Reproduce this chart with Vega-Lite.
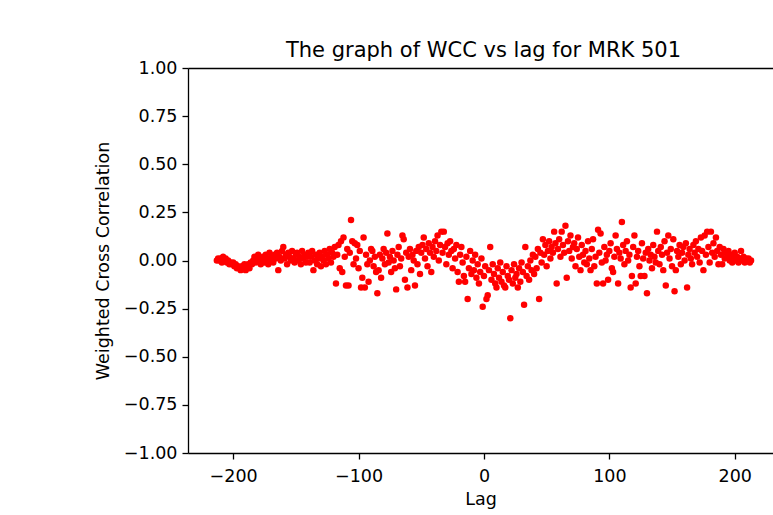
{
  "$schema": "https://vega.github.io/schema/vega-lite/v6.json",
  "width": 585,
  "height": 385,
  "autosize": {"type": "none"},
  "padding": {"left": 188, "top": 68, "right": 0, "bottom": 62},
  "background": "white",
  "title": {"text": "The graph of WCC vs lag for MRK 501", "fontSize": 21, "font": "DejaVu Sans", "fontWeight": "normal", "color": "#000000", "anchor": "middle", "dx": 3, "offset": -2},
  "config": {
    "view": {"stroke": null},
    "axis": {
      "grid": false, "domain": true, "domainColor": "#000000", "domainWidth": 1.3, "tickColor": "#000000", "tickSize": 6, "tickWidth": 1.3,
      "labelFont": "DejaVu Sans", "labelFontSize": 17.5, "labelColor": "#000000", "labelPadding": 5,
      "titleFont": "DejaVu Sans", "titleFontSize": 17.5, "titleFontWeight": "normal", "titleColor": "#000000", "titlePadding": 6
    }
  },
  "data": {"values": [
    {"lag":-213,"wcc":0.00},{"lag":-212,"wcc":0.01},{"lag":-211,"wcc":0.00},{"lag":-210,"wcc":0.01},{"lag":-209,"wcc":-0.01},{"lag":-208,"wcc":0.02},{"lag":-207,"wcc":0.00},{"lag":-206,"wcc":0.01},{"lag":-205,"wcc":-0.01},{"lag":-204,"wcc":0.00},{"lag":-203,"wcc":-0.02},{"lag":-202,"wcc":-0.01},{"lag":-201,"wcc":-0.02},{"lag":-200,"wcc":-0.01},{"lag":-199,"wcc":-0.03},{"lag":-198,"wcc":-0.02},{"lag":-197,"wcc":-0.04},{"lag":-196,"wcc":-0.03},{"lag":-195,"wcc":-0.04},{"lag":-194,"wcc":-0.05},{"lag":-193,"wcc":-0.03},{"lag":-192,"wcc":-0.04},{"lag":-191,"wcc":-0.02},{"lag":-190,"wcc":-0.05},{"lag":-189,"wcc":-0.03},{"lag":-188,"wcc":-0.02},{"lag":-187,"wcc":-0.04},{"lag":-186,"wcc":-0.01},
    {"lag":-185,"wcc":-0.02},{"lag":-184,"wcc":0.00},{"lag":-183,"wcc":0.02},{"lag":-182,"wcc":-0.01},{"lag":-181,"wcc":0.01},{"lag":-180,"wcc":0.03},{"lag":-179,"wcc":0.00},{"lag":-178,"wcc":-0.02},{"lag":-177,"wcc":0.01},{"lag":-176,"wcc":0.02},{"lag":-175,"wcc":-0.01},{"lag":-174,"wcc":0.03},{"lag":-173,"wcc":0.01},{"lag":-172,"wcc":-0.02},{"lag":-171,"wcc":0.04},{"lag":-170,"wcc":0.00},{"lag":-169,"wcc":0.02},{"lag":-168,"wcc":-0.01},{"lag":-167,"wcc":0.03},{"lag":-166,"wcc":0.01},{"lag":-165,"wcc":0.04},{"lag":-164,"wcc":-0.05},{"lag":-163,"wcc":0.02},{"lag":-162,"wcc":0.00},{"lag":-161,"wcc":0.05},{"lag":-160,"wcc":0.07},{"lag":-159,"wcc":0.01},{"lag":-158,"wcc":0.03},{"lag":-157,"wcc":-0.02},{"lag":-156,"wcc":0.04},{"lag":-155,"wcc":0.02},{"lag":-154,"wcc":0.00},{"lag":-153,"wcc":0.05},{"lag":-152,"wcc":0.01},{"lag":-151,"wcc":-0.01},{"lag":-150,"wcc":0.03},{"lag":-149,"wcc":0.04},{"lag":-148,"wcc":0.00},{"lag":-147,"wcc":0.02},{"lag":-146,"wcc":-0.02},{"lag":-145,"wcc":0.05},{"lag":-144,"wcc":0.01},{"lag":-143,"wcc":0.03},{"lag":-142,"wcc":-0.01},{"lag":-141,"wcc":0.02},
    {"lag":-140,"wcc":0.04},{"lag":-139,"wcc":-0.01},{"lag":-138,"wcc":0.02},{"lag":-137,"wcc":0.05},{"lag":-136,"wcc":-0.05},{"lag":-135,"wcc":0.00},{"lag":-134,"wcc":0.03},{"lag":-133,"wcc":-0.02},{"lag":-132,"wcc":0.01},{"lag":-131,"wcc":0.04},{"lag":-130,"wcc":-0.03},{"lag":-129,"wcc":0.02},{"lag":-128,"wcc":0.00},{"lag":-127,"wcc":0.05},{"lag":-126,"wcc":-0.02},{"lag":-125,"wcc":0.03},{"lag":-124,"wcc":0.01},{"lag":-123,"wcc":0.06},{"lag":-122,"wcc":-0.01},{"lag":-121,"wcc":0.04},{"lag":-120,"wcc":0.02},{"lag":-119,"wcc":0.07},{"lag":-118,"wcc":-0.12},{"lag":-117,"wcc":0.03},{"lag":-116,"wcc":0.08},
    {"lag":-115,"wcc":-0.04},{"lag":-114,"wcc":0.10},{"lag":-113,"wcc":-0.06},{"lag":-112,"wcc":0.12},{"lag":-111,"wcc":0.02},{"lag":-110,"wcc":-0.13},{"lag":-109,"wcc":0.06},{"lag":-108,"wcc":-0.13},{"lag":-107,"wcc":0.04},{"lag":-106,"wcc":0.21},{"lag":-105,"wcc":0.10},{"lag":-104,"wcc":-0.02},{"lag":-103,"wcc":0.09},{"lag":-102,"wcc":0.01},{"lag":-101,"wcc":0.08},{"lag":-100,"wcc":-0.04},{"lag":-99,"wcc":0.05},{"lag":-98,"wcc":-0.14},{"lag":-97,"wcc":-0.09},{"lag":-96,"wcc":0.12},{"lag":-95,"wcc":-0.14},{"lag":-94,"wcc":0.03},{"lag":-93,"wcc":-0.02},{"lag":-92,"wcc":-0.11},{"lag":-91,"wcc":0.00},{"lag":-90,"wcc":0.06},{"lag":-89,"wcc":0.05},{"lag":-88,"wcc":-0.03},{"lag":-87,"wcc":0.02},{"lag":-86,"wcc":-0.06},{"lag":-85,"wcc":-0.17},
    {"lag":-84,"wcc":-0.05},{"lag":-83,"wcc":0.03},{"lag":-82,"wcc":-0.09},{"lag":-81,"wcc":0.01},{"lag":-80,"wcc":0.06},{"lag":-79,"wcc":-0.02},{"lag":-78,"wcc":0.04},{"lag":-77,"wcc":0.14},{"lag":-76,"wcc":-0.01},{"lag":-75,"wcc":0.02},{"lag":-74,"wcc":-0.06},{"lag":-73,"wcc":0.05},{"lag":-72,"wcc":0.00},{"lag":-71,"wcc":-0.04},{"lag":-70,"wcc":-0.15},{"lag":-69,"wcc":0.03},{"lag":-68,"wcc":0.07},{"lag":-67,"wcc":-0.03},{"lag":-66,"wcc":0.01},{"lag":-65,"wcc":0.13},{"lag":-64,"wcc":0.11},{"lag":-63,"wcc":-0.10},{"lag":-62,"wcc":0.04},{"lag":-61,"wcc":-0.14},{"lag":-60,"wcc":0.02},{"lag":-59,"wcc":0.06},{"lag":-58,"wcc":-0.05},{"lag":-57,"wcc":0.03},{"lag":-56,"wcc":0.00},{"lag":-55,"wcc":-0.13},{"lag":-54,"wcc":0.05},{"lag":-53,"wcc":-0.02},{"lag":-52,"wcc":0.07},{"lag":-51,"wcc":-0.07},{"lag":-50,"wcc":0.04},
    {"lag":-49,"wcc":0.08},{"lag":-48,"wcc":0.12},{"lag":-47,"wcc":0.01},{"lag":-46,"wcc":0.06},{"lag":-45,"wcc":-0.03},{"lag":-44,"wcc":0.09},{"lag":-43,"wcc":0.04},{"lag":-42,"wcc":-0.06},{"lag":-41,"wcc":0.07},{"lag":-40,"wcc":0.02},{"lag":-39,"wcc":0.10},{"lag":-38,"wcc":0.05},{"lag":-37,"wcc":0.13},{"lag":-36,"wcc":0.00},{"lag":-35,"wcc":0.08},{"lag":-34,"wcc":0.15},{"lag":-33,"wcc":0.04},{"lag":-32,"wcc":0.15},{"lag":-31,"wcc":0.07},{"lag":-30,"wcc":-0.02},{"lag":-29,"wcc":0.09},{"lag":-28,"wcc":0.03},{"lag":-27,"wcc":0.10},{"lag":-26,"wcc":0.05},{"lag":-25,"wcc":-0.04},{"lag":-24,"wcc":0.06},{"lag":-23,"wcc":0.01},{"lag":-22,"wcc":0.08},{"lag":-21,"wcc":-0.06},{"lag":-20,"wcc":-0.11},{"lag":-19,"wcc":0.03},{"lag":-18,"wcc":0.07},{"lag":-17,"wcc":-0.01},{"lag":-16,"wcc":-0.08},{"lag":-15,"wcc":-0.11},{"lag":-14,"wcc":0.02},{"lag":-13,"wcc":-0.20},{"lag":-12,"wcc":-0.04},{"lag":-11,"wcc":0.05},{"lag":-10,"wcc":-0.07},{"lag":-9,"wcc":0.00},{"lag":-8,"wcc":-0.05},{"lag":-7,"wcc":0.03},{"lag":-6,"wcc":-0.09},{"lag":-5,"wcc":-0.02},{"lag":-4,"wcc":-0.12},{"lag":-3,"wcc":-0.06},{"lag":-2,"wcc":0.01},{"lag":-1,"wcc":-0.24},
    {"lag":0,"wcc":-0.08},{"lag":1,"wcc":-0.03},{"lag":2,"wcc":-0.20},{"lag":3,"wcc":-0.18},{"lag":4,"wcc":-0.05},{"lag":5,"wcc":0.07},{"lag":6,"wcc":-0.10},{"lag":7,"wcc":-0.02},{"lag":8,"wcc":-0.07},{"lag":9,"wcc":-0.12},{"lag":10,"wcc":-0.14},{"lag":11,"wcc":-0.04},{"lag":12,"wcc":-0.09},{"lag":13,"wcc":-0.01},{"lag":14,"wcc":-0.11},{"lag":15,"wcc":-0.06},{"lag":16,"wcc":-0.13},{"lag":17,"wcc":-0.14},{"lag":18,"wcc":-0.03},{"lag":19,"wcc":-0.08},{"lag":20,"wcc":-0.10},{"lag":21,"wcc":-0.30},{"lag":22,"wcc":-0.05},{"lag":23,"wcc":-0.12},{"lag":24,"wcc":-0.02},{"lag":25,"wcc":-0.09},{"lag":26,"wcc":-0.07},{"lag":27,"wcc":-0.14},{"lag":28,"wcc":-0.04},{"lag":29,"wcc":-0.11},{"lag":30,"wcc":-0.01},{"lag":31,"wcc":-0.06},{"lag":32,"wcc":-0.23},{"lag":33,"wcc":0.07},{"lag":34,"wcc":-0.08},{"lag":35,"wcc":-0.03},{"lag":36,"wcc":-0.10},{"lag":37,"wcc":0.00},{"lag":38,"wcc":-0.05},{"lag":39,"wcc":0.03},{"lag":40,"wcc":-0.07},
    {"lag":41,"wcc":0.02},{"lag":42,"wcc":-0.04},{"lag":43,"wcc":0.06},{"lag":44,"wcc":-0.20},{"lag":45,"wcc":0.04},{"lag":46,"wcc":-0.01},{"lag":47,"wcc":0.11},{"lag":48,"wcc":0.03},{"lag":49,"wcc":0.08},{"lag":50,"wcc":-0.03},{"lag":51,"wcc":0.05},{"lag":52,"wcc":0.10},{"lag":53,"wcc":0.01},{"lag":54,"wcc":0.07},{"lag":55,"wcc":0.04},{"lag":56,"wcc":0.15},{"lag":57,"wcc":0.09},{"lag":58,"wcc":-0.12},{"lag":59,"wcc":0.06},{"lag":60,"wcc":0.11},{"lag":61,"wcc":0.02},{"lag":62,"wcc":0.15},{"lag":63,"wcc":0.08},{"lag":64,"wcc":0.04},{"lag":65,"wcc":0.18},{"lag":66,"wcc":-0.09},{"lag":67,"wcc":0.10},{"lag":68,"wcc":0.05},{"lag":69,"wcc":0.13},{"lag":70,"wcc":0.01},{"lag":71,"wcc":0.07},{"lag":72,"wcc":0.09},{"lag":73,"wcc":-0.03},{"lag":74,"wcc":0.06},{"lag":75,"wcc":0.12},{"lag":76,"wcc":0.02},{"lag":77,"wcc":-0.05},{"lag":78,"wcc":0.08},{"lag":79,"wcc":0.03},{"lag":80,"wcc":-0.01},
    {"lag":81,"wcc":0.05},{"lag":82,"wcc":-0.02},{"lag":83,"wcc":0.10},{"lag":84,"wcc":0.01},{"lag":85,"wcc":-0.05},{"lag":86,"wcc":0.06},{"lag":87,"wcc":0.11},{"lag":88,"wcc":-0.03},{"lag":89,"wcc":0.02},{"lag":90,"wcc":-0.12},{"lag":91,"wcc":0.16},{"lag":92,"wcc":0.04},{"lag":93,"wcc":0.14},{"lag":94,"wcc":-0.01},{"lag":95,"wcc":-0.12},{"lag":96,"wcc":0.07},{"lag":97,"wcc":0.00},{"lag":98,"wcc":0.03},{"lag":99,"wcc":-0.10},{"lag":100,"wcc":0.05},{"lag":101,"wcc":0.09},{"lag":102,"wcc":-0.04},{"lag":103,"wcc":-0.06},{"lag":104,"wcc":0.02},{"lag":105,"wcc":0.13},{"lag":106,"wcc":0.06},{"lag":107,"wcc":-0.12},{"lag":108,"wcc":0.04},{"lag":109,"wcc":0.01},{"lag":110,"wcc":0.20},{"lag":111,"wcc":0.08},{"lag":112,"wcc":-0.02},{"lag":113,"wcc":0.05},{"lag":114,"wcc":0.10},{"lag":115,"wcc":0.00},{"lag":116,"wcc":0.03},{"lag":117,"wcc":-0.14},{"lag":118,"wcc":-0.08},{"lag":119,"wcc":0.07},{"lag":120,"wcc":0.13},{"lag":121,"wcc":-0.12},{"lag":122,"wcc":0.02},{"lag":123,"wcc":0.05},{"lag":124,"wcc":-0.03},{"lag":125,"wcc":-0.08},{"lag":126,"wcc":0.09},{"lag":127,"wcc":0.01},{"lag":128,"wcc":-0.08},{"lag":129,"wcc":0.04},{"lag":130,"wcc":-0.17},{"lag":131,"wcc":0.06},{"lag":132,"wcc":0.00},{"lag":133,"wcc":0.03},{"lag":134,"wcc":-0.04},{"lag":135,"wcc":0.08},{"lag":136,"wcc":0.02},{"lag":137,"wcc":-0.01},{"lag":138,"wcc":0.15},{"lag":139,"wcc":0.05},{"lag":140,"wcc":-0.02},{"lag":141,"wcc":0.07},{"lag":142,"wcc":0.03},{"lag":143,"wcc":-0.05},{"lag":144,"wcc":0.10},{"lag":145,"wcc":-0.13},{"lag":146,"wcc":0.04},{"lag":147,"wcc":0.13},{"lag":148,"wcc":0.01},{"lag":149,"wcc":0.06},{"lag":150,"wcc":-0.03},
    {"lag":151,"wcc":0.11},{"lag":152,"wcc":-0.16},{"lag":153,"wcc":-0.05},{"lag":154,"wcc":0.05},{"lag":155,"wcc":0.02},{"lag":156,"wcc":0.08},{"lag":157,"wcc":-0.02},{"lag":158,"wcc":0.04},{"lag":159,"wcc":0.07},{"lag":160,"wcc":0.00},{"lag":161,"wcc":0.09},{"lag":162,"wcc":-0.14},{"lag":163,"wcc":0.03},{"lag":164,"wcc":0.06},{"lag":165,"wcc":0.01},{"lag":166,"wcc":-0.02},{"lag":167,"wcc":0.08},{"lag":168,"wcc":0.04},{"lag":169,"wcc":0.10},{"lag":170,"wcc":0.02},{"lag":171,"wcc":0.06},{"lag":172,"wcc":-0.01},{"lag":173,"wcc":0.12},{"lag":174,"wcc":0.05},{"lag":175,"wcc":-0.05},{"lag":176,"wcc":0.13},{"lag":177,"wcc":0.03},{"lag":178,"wcc":0.15},{"lag":179,"wcc":0.07},{"lag":180,"wcc":-0.01},{"lag":181,"wcc":0.15},{"lag":182,"wcc":0.04},{"lag":183,"wcc":0.09},{"lag":184,"wcc":0.02},{"lag":185,"wcc":0.12},{"lag":186,"wcc":0.05},{"lag":187,"wcc":-0.02},{"lag":188,"wcc":0.07},{"lag":189,"wcc":0.03},{"lag":190,"wcc":-0.02},{"lag":191,"wcc":0.06},{"lag":192,"wcc":0.01},{"lag":193,"wcc":0.04},{"lag":194,"wcc":0.02},{"lag":195,"wcc":0.05},
    {"lag":196,"wcc":0.00},{"lag":197,"wcc":0.03},{"lag":198,"wcc":-0.01},{"lag":199,"wcc":0.02},{"lag":200,"wcc":0.04},{"lag":201,"wcc":0.00},{"lag":202,"wcc":0.02},{"lag":203,"wcc":-0.01},{"lag":204,"wcc":0.01},{"lag":205,"wcc":0.05},{"lag":206,"wcc":0.00},{"lag":207,"wcc":0.02},{"lag":208,"wcc":-0.01},{"lag":209,"wcc":0.01},{"lag":210,"wcc":0.00},{"lag":211,"wcc":0.01},{"lag":212,"wcc":-0.01},{"lag":213,"wcc":0.00}
  ]},
  "layer": [
    {
      "mark": {"type": "circle", "color": "#ff0000", "opacity": 0},
      "encoding": {
        "x": {
          "field": "lag", "type": "quantitative",
          "scale": {"domain": [-236, 230.5], "nice": false, "zero": false},
          "axis": {"orient": "top", "labels": false, "ticks": false, "title": null}
        }
      }
    },
    {
      "mark": {"type": "circle", "color": "#ff0000", "size": 42, "opacity": 1},
      "encoding": {
        "x": {
          "field": "lag", "type": "quantitative",
          "scale": {"domain": [-236, 230.5], "nice": false, "zero": false},
          "axis": {"orient": "bottom", "values": [-200, -100, 0, 100, 200], "title": "Lag", "format": "d", "labelPadding": 8, "titlePadding": 6}
        },
        "y": {
          "field": "wcc", "type": "quantitative",
          "scale": {"domain": [-1, 1], "nice": false},
          "axis": {"values": [-1, -0.75, -0.5, -0.25, 0, 0.25, 0.5, 0.75, 1], "format": ".2f", "title": "Weighted Cross Correlation", "titlePadding": 11}
        }
      }
    }
  ],
  "resolve": {"axis": {"x": "independent"}}
}
